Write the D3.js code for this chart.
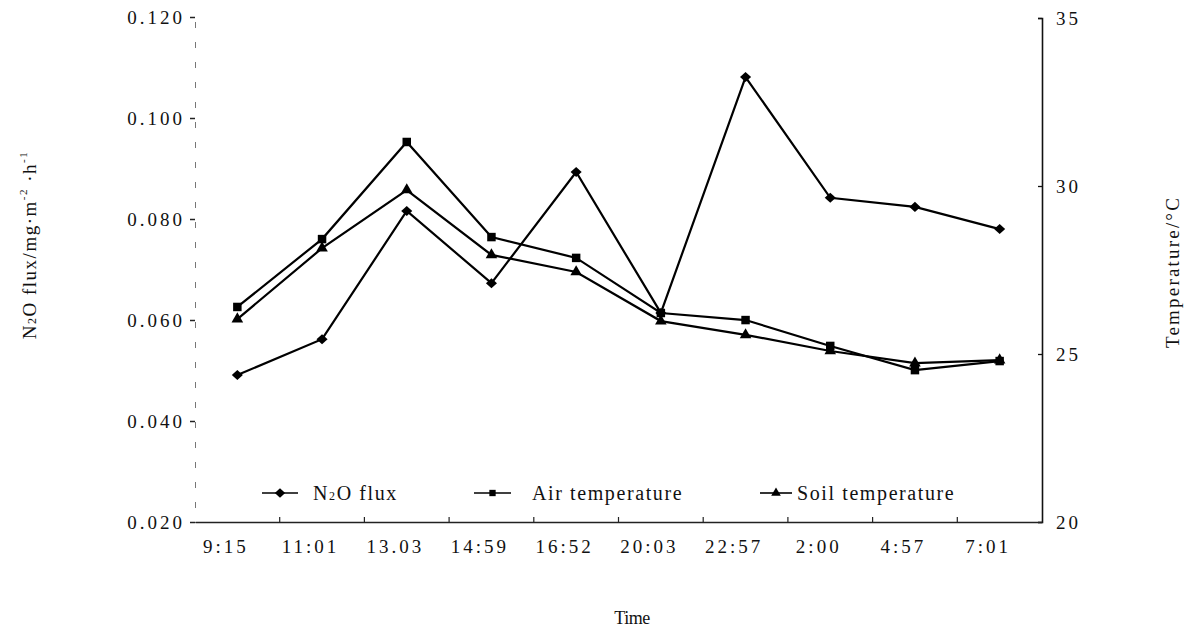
<!DOCTYPE html>
<html>
<head>
<meta charset="utf-8">
<script src="https://cdn.jsdelivr.net/npm/d3@7"></script>
<style>
  body { margin: 0; background: #fff; }
  svg { display: block; }
  text { font-family: "Liberation Serif", "Times New Roman", serif; fill: #111; }
</style>
</head>
<body>
<svg id="chart" width="1184" height="627"></svg>
<script>
// data
var times    = ["9:15","11:01","13.03","14:59","16:52","20:03","22:57","2:00","4:57","7:01"];
var n2oFlux  = [0.0491,0.0562,0.0816,0.0673,0.0893,0.0614,0.1081,0.0842,0.0824,0.0780];
var airTemp  = [26.40,28.42,31.31,28.48,27.86,26.22,26.01,25.24,24.52,24.79];
var soilTemp = [26.04,28.15,29.88,27.95,27.44,25.98,25.57,25.09,24.73,24.82];
var fluxTicks = [0.020,0.040,0.060,0.080,0.100,0.120];
var tempTicks = [20,25,30,35];

var svg = d3.select("#chart");
var plotLeft = 195, plotRight = 1042, plotTop = 17, plotBottom = 522;

var x = d3.scalePoint().domain(times).range([plotLeft, plotRight]).padding(0.5);
var yFlux = d3.scaleLinear().domain([0.02, 0.12]).range([plotBottom, plotTop]);
var yTemp = d3.scaleLinear().domain([20, 35]).range([plotBottom, plotTop + 1]);

/// diamond marker, a bit wider than d3's own
var diamond = {
  draw: function(ctx, size) {
    var w = Math.sqrt(size) * 0.62, h = Math.sqrt(size) * 0.56;
    ctx.moveTo(0, -h); ctx.lineTo(w, 0); ctx.lineTo(0, h); ctx.lineTo(-w, 0); ctx.closePath();
  }
};

var series = [
  {name: "flux", values: n2oFlux, y: yFlux, sym: diamond, size: 80},
  {name: "air", values: airTemp, y: yTemp, sym: d3.symbolSquare, size: 72},
  {name: "soil", values: soilTemp, y: yTemp, sym: d3.symbolTriangle, size: 58}
];

/// left axis (scan-faded, dashed look)
var gl = svg.append("g").attr("transform", "translate(" + plotLeft + ",0)")
  .call(d3.axisLeft(yFlux).tickValues(fluxTicks).tickFormat(d3.format(".3f")).tickSize(5).tickPadding(5));
gl.select(".domain").attr("stroke", "#777").attr("stroke-dasharray", "6,14").attr("stroke-width", 1);
gl.selectAll(".tick line").attr("stroke", "#222").attr("stroke-width", 1.5);
gl.selectAll(".tick text").attr("font-size", 19).attr("letter-spacing", 3)
  .attr("font-family", "Liberation Serif, serif").attr("fill", "#111").attr("dy", "0.32em");

/// right axis
var gr = svg.append("g").attr("transform", "translate(" + plotRight + ",0)")
  .call(d3.axisRight(yTemp).tickValues(tempTicks).tickSize(-4).tickPadding(14));
gr.select(".domain").attr("stroke", "#111").attr("stroke-width", 1.6);
gr.selectAll(".tick line").attr("stroke", "#111").attr("stroke-width", 1.3);
gr.selectAll(".tick text").attr("font-size", 19).attr("letter-spacing", 3)
  .attr("font-family", "Liberation Serif, serif").attr("fill", "#111");

/// bottom axis: labels under the points, small ticks between them
var gb = svg.append("g").attr("transform", "translate(0," + plotBottom + ")")
  .call(d3.axisBottom(x).tickSize(0).tickPadding(18));
gb.select(".domain").attr("stroke", "#222").attr("stroke-width", 1.5);
gb.selectAll(".tick text").attr("font-size", 19).attr("letter-spacing", 3)
  .attr("font-family", "Liberation Serif, serif").attr("fill", "#111").attr("dx", -12);

var step = x.step();
svg.append("g").selectAll("line")
  .data(times.slice(0, -1))
  .enter().append("line")
  .attr("x1", d => x(d) + step / 2).attr("x2", d => x(d) + step / 2)
  .attr("y1", plotBottom).attr("y2", plotBottom - 5)
  .attr("stroke", "#222").attr("stroke-width", 1.2);

/// lines and markers
series.forEach(function(s) {
  var line = d3.line().x((d, i) => x(times[i])).y(d => s.y(d));
  svg.append("path").datum(s.values)
    .attr("d", line).attr("fill", "none").attr("stroke", "#000").attr("stroke-width", 2.2);
  svg.append("g").selectAll("path")
    .data(s.values)
    .enter().append("path")
    .attr("transform", (d, i) => "translate(" + x(times[i]) + "," + s.y(d) + ")")
    .attr("d", d3.symbol().type(s.sym).size(s.size))
    .attr("fill", "#000");
});

/// legend
var legendY = 493;
var legend = [
  {x0: 262, x1: 298, tx: 313, sym: diamond, size: 70, label: ["N", "2", "O flux"]},
  {x0: 474, x1: 511, tx: 532, sym: d3.symbolSquare, size: 40, label: ["Air temperature"]},
  {x0: 760, x1: 792, tx: 797, sym: d3.symbolTriangle, size: 40, label: ["Soil temperature"]}
];
legend.forEach(function(l) {
  svg.append("line").attr("x1", l.x0).attr("x2", l.x1).attr("y1", legendY).attr("y2", legendY)
    .attr("stroke", "#000").attr("stroke-width", 1.6);
  svg.append("path").attr("transform", "translate(" + ((l.x0 + l.x1) / 2) + "," + legendY + ")")
    .attr("d", d3.symbol().type(l.sym).size(l.size)).attr("fill", "#000");
  var t = svg.append("text").attr("x", l.tx).attr("y", legendY + 7)
    .attr("font-size", 20).attr("letter-spacing", 1.6);
  if (l.label.length === 3) {
    t.append("tspan").text(l.label[0]);
    t.append("tspan").attr("font-size", 12).text(l.label[1]);
    t.append("tspan").text(l.label[2]);
  } else {
    t.text(l.label[0]);
  }
});

/// axis titles
var yl = svg.append("text").attr("transform", "translate(36,245) rotate(-90)")
  .attr("text-anchor", "middle").attr("font-size", 19).attr("letter-spacing", 1.5);
yl.append("tspan").text("N");
yl.append("tspan").attr("font-size", 12).text("2");
yl.append("tspan").text("O flux/mg·m");
yl.append("tspan").attr("font-size", 11).attr("dy", -9).text("-2");
yl.append("tspan").attr("dy", 9).text(" ·h");
yl.append("tspan").attr("font-size", 11).attr("dy", -9).text("-1");

svg.append("text").attr("transform", "translate(1179,272) rotate(-90)")
  .attr("text-anchor", "middle").attr("font-size", 19).attr("letter-spacing", 2.2)
  .text("Temperature/°C");

svg.append("text").attr("x", 632).attr("y", 624).attr("text-anchor", "middle")
  .attr("font-size", 18).attr("letter-spacing", -0.5).text("Time");
</script>
</body>
</html>
